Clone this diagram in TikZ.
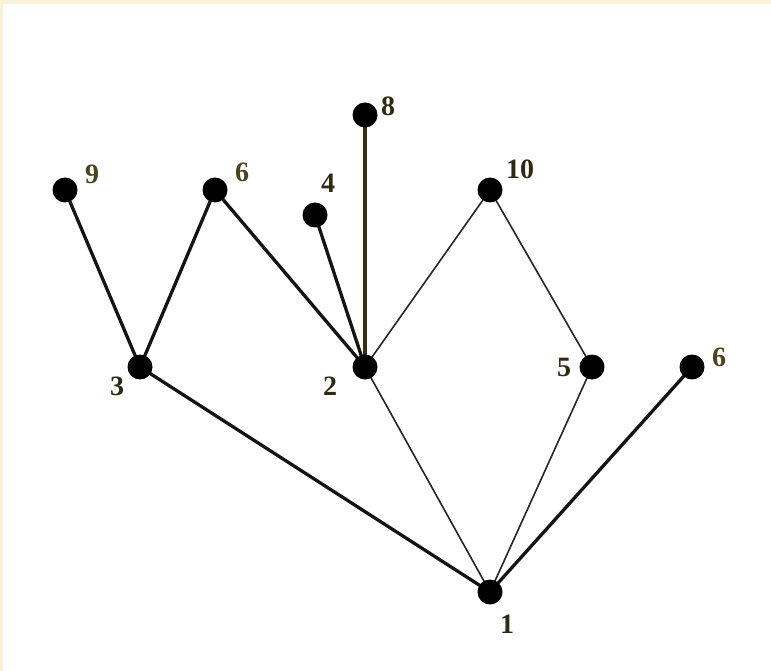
\documentclass[tikz,border=0pt]{standalone}
\usepackage{fontspec}
\setmainfont{Liberation Serif}
\definecolor{cream}{HTML}{FAF2D6}
\definecolor{lbl}{HTML}{2E2A14}
\definecolor{lbl2}{HTML}{4A4420}
\definecolor{brownline}{HTML}{3A2E12}
\begin{document}
\begin{tikzpicture}[x=1pt,y=-1pt,
  vtx/.style={circle,fill=black,inner sep=0pt,minimum size=25pt},
  lab/.style={text=lbl,font=\fontsize{28}{28}\selectfont\bfseries,inner sep=0pt},
  thick edge/.style={line width=3.3pt,draw=black!92},
  thin edge/.style={line width=1.6pt,draw=black!85}]
\fill[cream] (0,0) rectangle (771,671);
\fill[white] (3,4) rectangle (771,671);
\useasboundingbox (0,0) rectangle (771,671);
% vertex positions
\coordinate (p9) at (65,190);
\coordinate (p6a) at (215,190);
\coordinate (p4) at (315,215);
\coordinate (p8) at (365,115);
\coordinate (p10) at (490,190);
\coordinate (p3) at (140,367);
\coordinate (p2) at (365,367);
\coordinate (p5) at (592,367);
\coordinate (p6b) at (692,367);
\coordinate (p1) at (490,592);
% edges
\draw[thick edge] (p9) -- (p3);
\draw[thick edge] (p6a) -- (p3);
\draw[thick edge] (p6a) -- (p2);
\draw[thick edge] (p4) -- (p2);
\draw[thick edge,draw=brownline] (p8) -- (p2);
\draw[thick edge] (p3) -- (p1);
\draw[thick edge] (p6b) -- (p1);
\draw[thin edge] (p2) -- (p10);
\draw[thin edge] (p10) -- (p5);
\draw[thin edge] (p5) -- (p1);
\draw[thin edge] (p2) -- (p1);
% vertices
\node[vtx] (v9) at (p9) {};
\node[vtx] (v6a) at (p6a) {};
\node[vtx] (v4) at (p4) {};
\node[vtx] (v8) at (p8) {};
\node[vtx] (v10) at (p10) {};
\node[vtx] (v3) at (p3) {};
\node[vtx] (v2) at (p2) {};
\node[vtx] (v5) at (p5) {};
\node[vtx] (v6b) at (p6b) {};
\node[vtx] (v1) at (p1) {};
% labels
\node[lab,text=lbl2] (l9) at (92,174) {9};
\node[lab,text=lbl2] (l6a) at (242,172) {6};
\node[lab] (l4) at (328,183) {4};
\node[lab] (l8) at (388,106) {8};
\node[lab] (l10) at (520,169) {10};
\node[lab] (l3) at (117,386) {3};
\node[lab] (l2) at (330,386) {2};
\node[lab] (l5) at (564,367) {5};
\node[lab,text=lbl2] (l6b) at (719,357) {6};
\node[lab] (l1) at (507,624) {1};
\end{tikzpicture}
\end{document}
